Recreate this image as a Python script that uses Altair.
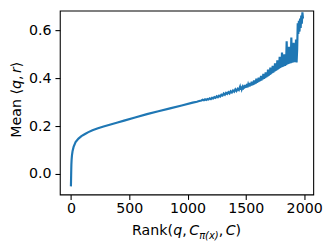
import altair as alt
import pandas as pd

# ---- data ----
rank_smooth = [0, 1, 2, 3, 4, 6, 9, 14, 23, 40, 65, 90, 121, 150, 185, 232,
               280, 340, 400, 456, 550, 652, 750, 850, 950, 1044, 1080, 1100]
mean_smooth = [-0.052, -0.03, -0.005, 0.02, 0.04, 0.06, 0.078, 0.095, 0.113,
               0.133, 0.148, 0.158, 0.167, 0.175, 0.183, 0.191, 0.198, 0.207,
               0.215, 0.223, 0.236, 0.250, 0.262, 0.274, 0.286, 0.298, 0.302,
               0.305]

rank_noisy = (list(range(1120, 1450, 10)) + list(range(1450, 1945, 5))
              + list(range(1945, 1995, 5)))
mean_noisy = [
    # 1120 - 1440 (every 10)
    0.307, 0.310, 0.308, 0.312, 0.309, 0.313, 0.311, 0.316, 0.313, 0.318,
    0.316, 0.321, 0.318, 0.325, 0.321, 0.327, 0.324, 0.331, 0.328, 0.336,
    0.331, 0.339, 0.335, 0.342, 0.337, 0.346, 0.341, 0.349, 0.344, 0.354,
    0.347, 0.356, 0.351,
    # 1450 - 1940 (every 5)
    0.364, 0.352, 0.366, 0.355, 0.362, 0.353, 0.369, 0.357, 0.372, 0.360,
    0.370, 0.361, 0.376, 0.362, 0.373, 0.365, 0.381, 0.366, 0.378, 0.369,
    0.386, 0.371, 0.382, 0.373, 0.391, 0.376, 0.387, 0.378, 0.398, 0.381,
    0.393, 0.384, 0.403, 0.386, 0.398, 0.389, 0.410, 0.392, 0.404, 0.395,
    0.418, 0.398, 0.412, 0.401, 0.425, 0.404, 0.420, 0.407, 0.436, 0.410,
    0.428, 0.414, 0.445, 0.417, 0.436, 0.421, 0.452, 0.424, 0.444, 0.428,
    0.462, 0.431, 0.452, 0.434, 0.475, 0.437, 0.460, 0.440, 0.490, 0.443,
    0.470, 0.446, 0.508, 0.448, 0.478, 0.450, 0.500, 0.452, 0.488, 0.455,
    0.555, 0.458, 0.495, 0.460, 0.532, 0.462, 0.505, 0.463, 0.570, 0.465,
    0.512, 0.466, 0.548, 0.467, 0.515, 0.468, 0.562, 0.466, 0.520,
    # 1945 - 1990 (final rise)
    0.630, 0.585, 0.640, 0.595, 0.650, 0.610, 0.662, 0.628, 0.676, 0.650,
]

x_ticks = [0, 500, 1000, 1500, 2000]
y_ticks = [0.0, 0.2, 0.4, 0.6]

df = pd.DataFrame({"rank": rank_smooth + rank_noisy,
                   "mean": mean_smooth + mean_noisy})

W, H = 259, 188
FONT = "DejaVu Sans"
FS = 14.5

line = alt.Chart(df).mark_line(color="#1f77b4", strokeWidth=2.2).encode(
    x=alt.X("rank:Q",
            scale=alt.Scale(domain=[-94.8, 2078], nice=False, zero=False),
            axis=alt.Axis(values=x_ticks, format="d", title=None)),
    y=alt.Y("mean:Q",
            scale=alt.Scale(domain=[-0.086, 0.683], nice=False, zero=False),
            axis=alt.Axis(values=y_ticks, format=".1f", title=None)),
)

one = pd.DataFrame({"k": [0]})


def seg(text, x, y, size=FS, italic=False, angle=None):
    kw = dict(text=text, align="left", baseline="alphabetic", font=FONT,
              fontSize=size, color="black")
    if italic:
        kw["fontStyle"] = "italic"
    if angle is not None:
        kw["angle"] = angle
    return alt.Chart(one).mark_text(**kw).encode(x=alt.value(x), y=alt.value(y))


# x-axis title: Rank(q, C_{π(x)}, C)
bx = 229.5
xt = [
    seg("Rank(", 73.75, bx),
    seg("q", 115.95, bx, italic=True),
    seg(",", 125.15, bx),
    seg("C", 132.25, bx, italic=True),
    seg("π(x)", 142.35, bx + 3.5, size=10.15, italic=True),
    seg(",", 162.35, bx),
    seg("C", 169.45, bx, italic=True),
    seg(")", 179.55, bx),
]

# y-axis title: Mean ⟨q, r⟩ (rotated)
by = -40
yt = [
    seg("Mean", by, 129.9, angle=270),
    seg("⟨", by, 85.8, angle=270),
    seg("q", by, 80.1, italic=True, angle=270),
    seg(",", by, 70.9, angle=270),
    seg("r", by, 63.8, italic=True, angle=270),
    seg("⟩", by, 57.8, angle=270),
]

chart = alt.layer(line, *xt, *yt).properties(
    width=W, height=H,
    autosize=alt.AutoSizeParams(type="none"),
    padding={"left": 53, "top": 0, "right": 12, "bottom": 51},
).configure_view(
    stroke="black", strokeWidth=1.1
).configure_axis(
    domain=False, grid=False, tickColor="black", tickSize=5, tickWidth=1.1,
    labelFont=FONT, labelFontSize=FS, labelColor="black",
).configure_axisX(
    labelPadding=2
).configure_axisY(
    labelPadding=4
)

chart.save("out.html", embed_options={"renderer": "svg", "actions": False})
